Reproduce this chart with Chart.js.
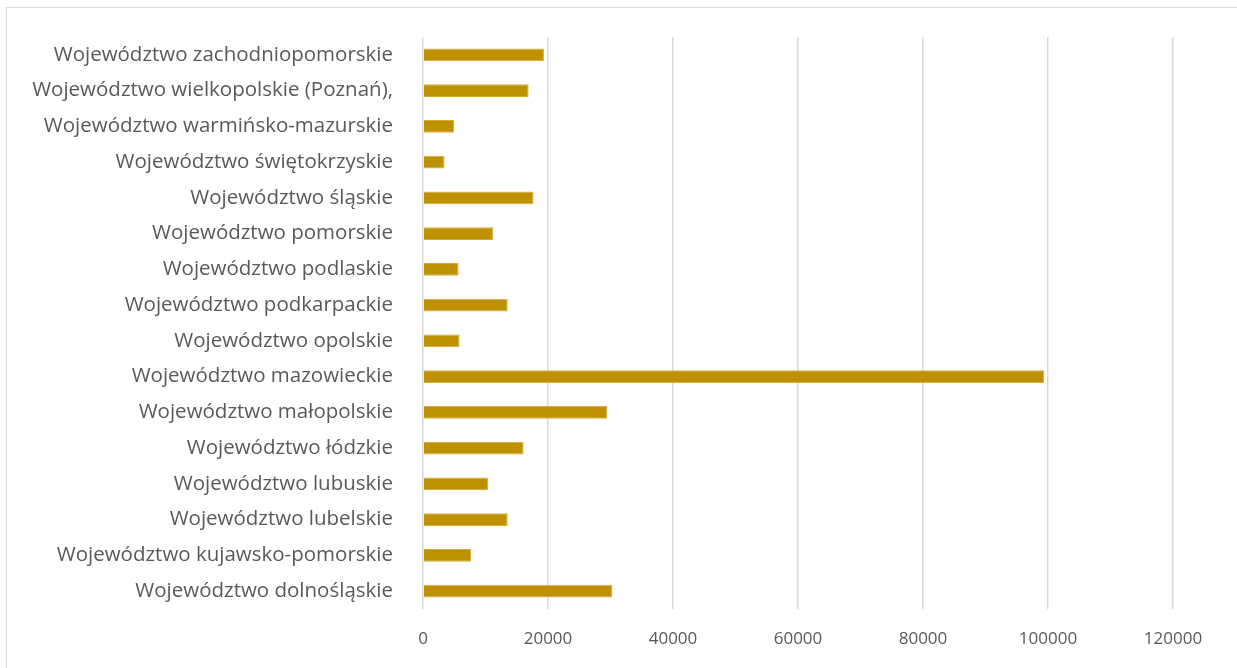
<!DOCTYPE html>
<html lang="pl">
<head>
<meta charset="utf-8">
<title>Województwa</title>
<script src="https://cdn.jsdelivr.net/npm/chart.js@4/dist/chart.umd.min.js"></script>
<style>
  html, body { margin: 0; padding: 0; background: #ffffff; }
  #wrap { position: relative; width: 1237px; height: 668px; overflow: hidden; }
  #frame {
    position: absolute; left: 6px; top: 7px; right: -10px; bottom: -10px;
    border: 1.5px solid #d9d9d9; pointer-events: none;
  }
  canvas { position: absolute; left: 0; top: 0; }
</style>
</head>
<body>
<div id="wrap">
  <canvas id="chart" width="1237" height="668"></canvas>
  <div id="frame"></div>
</div>
<script>
// Voivodeships, top-to-bottom as drawn
const regions = [
  'Województwo zachodniopomorskie',
  'Województwo wielkopolskie (Poznań),',
  'Województwo warmińsko-mazurskie',
  'Województwo świętokrzyskie',
  'Województwo śląskie',
  'Województwo pomorskie',
  'Województwo podlaskie',
  'Województwo podkarpackie',
  'Województwo opolskie',
  'Województwo mazowieckie',
  'Województwo małopolskie',
  'Województwo łódzkie',
  'Województwo lubuskie',
  'Województwo lubelskie',
  'Województwo kujawsko-pomorskie',
  'Województwo dolnośląskie'
];

const values = [
  19350, 16900, 5000, 3450, 17700, 11250, 5700, 13550,
  5850, 99400, 29500, 16100, 10450, 13550, 7700, 30300
];

const xTicks = [0, 20000, 40000, 60000, 80000, 100000, 120000];

const barColor = '#BF9000';
const textColor = '#595959';
const gridColor = '#d9d9d9';

new Chart(document.getElementById('chart'), {
  type: 'bar',
  data: {
    labels: regions,
    datasets: [{
      data: values,
      backgroundColor: barColor,
      borderColor: '#d6ad3a',
      borderWidth: { top: 1, right: 1, bottom: 1, left: 0 },
      borderSkipped: 'left',
      categoryPercentage: 0.72,
      barPercentage: 0.5
    }]
  },
  options: {
    indexAxis: 'y',
    responsive: false,
    animation: false,
    events: [],
    layout: { padding: { top: 37, right: 64, bottom: 0, left: 0 } },
    plugins: {
      legend: { display: false },
      tooltip: { enabled: false },
      title: { display: false }
    },
    scales: {
      x: {
        min: xTicks[0],
        max: xTicks[xTicks.length - 1],
        afterBuildTicks: (axis) => { axis.ticks = xTicks.map(v => ({ value: v })); },
        grid: { color: gridColor, lineWidth: 1.5, drawTicks: false },
        border: { display: false },
        ticks: {
          color: textColor,
          font: { family: 'Open Sans', size: 17 },
          padding: 20,
          maxRotation: 0,
          callback: (v) => String(v)
        },
        afterFit: (axis) => { axis.height = 59; }
      },
      y: {
        // invisible tick marks provide the gap between labels and bars
        grid: {
          display: true,
          drawOnChartArea: false,
          drawTicks: true,
          tickLength: 30,
          color: 'rgba(0,0,0,0)'
        },
        border: { display: false },
        ticks: {
          color: textColor,
          font: { family: 'Open Sans', size: 20.5 },
          padding: 0,
          autoSkip: false
        },
        afterFit: (axis) => { axis.width = 423; }
      }
    }
  }
});
</script>
</body>
</html>
